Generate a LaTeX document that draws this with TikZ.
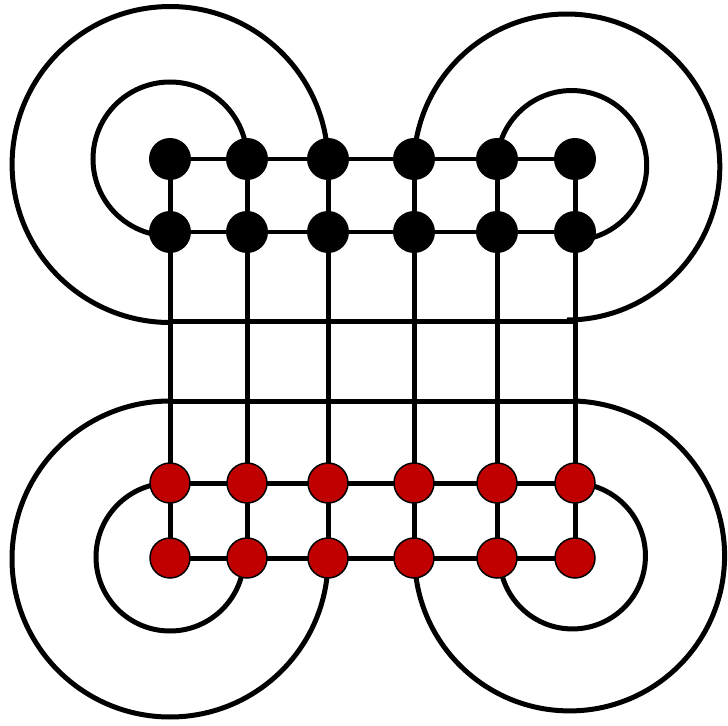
\documentclass[tikz,border=0pt]{standalone}
\usetikzlibrary{backgrounds}
\definecolor{dotred}{RGB}{192,0,0}
\begin{document}
\begin{tikzpicture}[x=0.02cm,y=0.02cm]
  \tikzstyle{blackdot}=[circle, fill=black, inner sep=0pt, minimum size=0.84cm]
  \tikzstyle{reddot}=[circle, draw=black, line width=0.03cm, fill=dotred, inner sep=0pt, minimum size=0.8cm]
  \useasboundingbox (0,0) rectangle (728,725);

  % rows a,b black; c,d bare crossings; e,f red
  \foreach \x [count=\i] in {170,247,328,414,497,575} {
    \node[blackdot] (a\i) at (\x,566) {};
    \node[blackdot] (b\i) at (\x,493) {};
    \coordinate (c\i) at (\x,404);
    \coordinate (d\i) at (\x,324);
    \node[reddot] (e\i) at (\x,242) {};
    \node[reddot] (f\i) at (\x,167) {};
  }

  \begin{scope}[on background layer={line width=0.1cm}]
    \foreach \i in {1,...,6} \draw (a\i.center) -- (f\i.center);
    \foreach \r in {a,b,c,d,e,f} \draw (\r1.center) -- (\r6.center);

    % loops round the four corners
    \draw (a3.center) arc[start angle=2, end angle=270, radius=158];
    \draw (a2.center) arc[start angle=0, end angle=270, radius=77];
    \draw (a4.center) arc[start angle=177, end angle=-90, radius=153];
    \draw (a5.center) arc[start angle=175, end angle=-90, radius=75];
    \draw (d1) arc[start angle=90, end angle=360, radius=158];
    \draw (e1.center) arc[start angle=90, end angle=360, radius=74];
    \draw (d6) arc[start angle=88, end angle=-180, radius=155];
    \draw (e6.center) arc[start angle=88, end angle=-180, radius=73];
  \end{scope}
\end{tikzpicture}
\end{document}
